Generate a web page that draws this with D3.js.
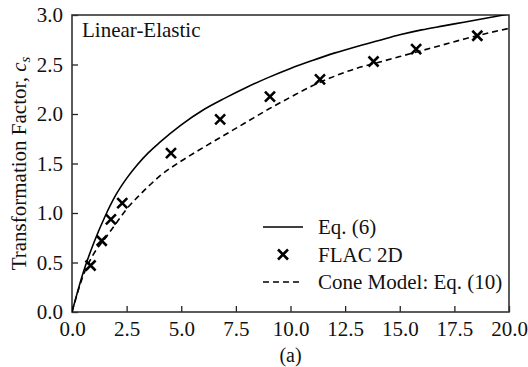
<!DOCTYPE html>
<html>
<head>
<meta charset="utf-8">
<script src="https://cdn.jsdelivr.net/npm/d3@7"></script>
<style>
  body { margin: 0; background: #fff; }
  text { font-family: "Liberation Serif", "Times New Roman", serif; fill: #111; }
</style>
</head>
<body>
<div id="chart"></div>
<script>
// Eq. (6) solid curve
var eq6X = [0, 0.5, 1, 1.5, 2, 2.5, 3, 3.5, 4, 5, 6, 7, 8, 9, 10, 11, 12, 13, 14, 15, 16, 17, 18, 19, 20];
var eq6Y = [0, 0.39, 0.70, 0.96, 1.18, 1.35, 1.49, 1.61, 1.71, 1.89, 2.04, 2.16, 2.27, 2.37, 2.46, 2.54, 2.615, 2.68, 2.74, 2.80, 2.85, 2.89, 2.93, 2.97, 3.01];

// Cone Model: Eq. (10) dashed curve
var coneX = [0, 0.5, 1, 1.5, 2, 2.5, 3, 3.5, 4, 5, 6, 7, 8, 9, 10, 11, 12, 13, 14, 15, 16, 17, 18, 19, 20];
var coneY = [0, 0.36, 0.59, 0.74, 0.89, 1.04, 1.16, 1.27, 1.37, 1.525, 1.66, 1.79, 1.92, 2.05, 2.17, 2.285, 2.38, 2.46, 2.52, 2.58, 2.64, 2.70, 2.76, 2.815, 2.865];

// FLAC 2D points
var flacX = [0.85, 1.36, 1.78, 2.3, 4.53, 6.78, 9.06, 11.35, 13.8, 15.75, 18.55];
var flacY = [0.47, 0.72, 0.935, 1.1, 1.605, 1.945, 2.175, 2.35, 2.53, 2.655, 2.79];

var xTicks = [0, 2.5, 5, 7.5, 10, 12.5, 15, 17.5, 20];
var yTicks = [0, 0.5, 1, 1.5, 2, 2.5, 3];

var width = 528, height = 367;
var margin = { top: 15, right: 19, bottom: 55, left: 72 };
var w = width - margin.left - margin.right;
var h = height - margin.top - margin.bottom;
var fs = "21px";

var svg = d3.select("#chart").append("svg")
  .attr("width", width)
  .attr("height", height);

var g = svg.append("g")
  .attr("transform", "translate(" + margin.left + "," + margin.top + ")");

var x = d3.scaleLinear().domain([0, 20]).range([0, w]);
var y = d3.scaleLinear().domain([0, 3]).range([h, 0]);

g.append("clipPath").attr("id", "clip")
  .append("rect").attr("width", w).attr("height", h);

// axes with inward ticks
var xAxis = g.append("g")
  .attr("transform", "translate(0," + h + ")")
  .call(d3.axisBottom(x).tickValues(xTicks).tickSizeInner(-6).tickSizeOuter(0).tickPadding(9)
    .tickFormat(d3.format(".1f")));
var yAxis = g.append("g")
  .call(d3.axisLeft(y).tickValues(yTicks).tickSizeInner(-6).tickSizeOuter(0).tickPadding(9)
    .tickFormat(d3.format(".1f")));

[xAxis, yAxis].forEach(function (a) {
  a.select(".domain").remove();
  a.selectAll("line").attr("stroke", "#222").attr("stroke-width", 1.3);
  a.selectAll("text").style("font-size", fs)
    .style("font-family", "'Liberation Serif', serif").attr("fill", "#111");
});

// frame
g.append("rect")
  .attr("width", w).attr("height", h)
  .attr("fill", "none").attr("stroke", "#333").attr("stroke-width", 1.6);

var line = d3.line()
  .x(function (d) { return x(d[0]); })
  .y(function (d) { return y(d[1]); })
  .curve(d3.curveMonotoneX);

var plot = g.append("g").attr("clip-path", "url(#clip)");

plot.append("path")
  .datum(d3.zip(eq6X, eq6Y))
  .attr("d", line)
  .attr("fill", "none").attr("stroke", "#000").attr("stroke-width", 1.6);

plot.append("path")
  .datum(d3.zip(coneX, coneY))
  .attr("d", line)
  .attr("fill", "none").attr("stroke", "#000").attr("stroke-width", 1.6)
  .attr("stroke-dasharray", "6,4");

function drawX(sel, cx, cy) {
  var s = 5;
  sel.append("path")
    .attr("d", "M" + (cx - s) + "," + (cy - s) + "L" + (cx + s) + "," + (cy + s) +
      "M" + (cx - s) + "," + (cy + s) + "L" + (cx + s) + "," + (cy - s))
    .attr("stroke", "#000").attr("stroke-width", 2.6).attr("fill", "none");
}
d3.zip(flacX, flacY).forEach(function (d) {
  drawX(g, x(d[0]), y(d[1]));
});

// panel label
g.append("text")
  .attr("x", 10).attr("y", 22)
  .style("font-size", fs)
  .text("Linear-Elastic");

// legend
var legend = g.append("g").attr("transform", "translate(" + (263 - margin.left) + "," + (227 - margin.top) + ")");
var rows = [
  { label: "Eq. (6)", type: "solid" },
  { label: "FLAC 2D", type: "marker" },
  { label: "Cone Model: Eq. (10)", type: "dash" }
];
rows.forEach(function (r, i) {
  var ry = i * 27.5;
  if (r.type === "marker") {
    drawX(legend, 20, ry);
  } else {
    legend.append("line")
      .attr("x1", 0).attr("x2", 40).attr("y1", ry).attr("y2", ry)
      .attr("stroke", "#000").attr("stroke-width", 1.6)
      .attr("stroke-dasharray", r.type === "dash" ? "6,4" : null);
  }
  legend.append("text")
    .attr("x", 55).attr("y", ry + 7)
    .style("font-size", fs)
    .text(r.label);
});

// axis titles
svg.append("text")
  .attr("x", margin.left + w / 2).attr("y", 362)
  .attr("text-anchor", "middle")
  .style("font-size", "20px")
  .text("(a)");

var yt = svg.append("text")
  .attr("transform", "translate(26," + (margin.top + h / 2) + ") rotate(-90)")
  .attr("text-anchor", "middle")
  .style("font-size", fs);
yt.append("tspan").text("Transformation Factor, ");
yt.append("tspan").style("font-style", "italic").text("c");
yt.append("tspan").style("font-style", "italic").style("font-size", "15px").attr("dy", 4).text("s");
</script>
</body>
</html>
